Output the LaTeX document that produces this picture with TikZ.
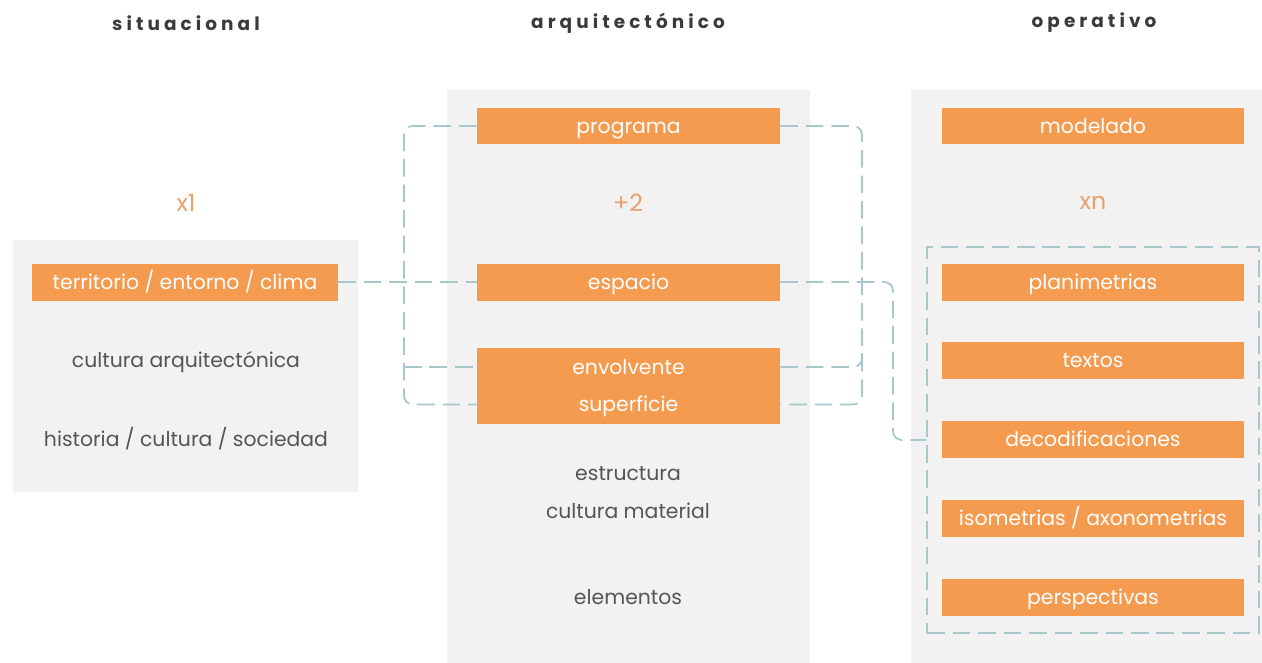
\documentclass[tikz,border=0pt]{standalone}
\usepackage{fontspec}
\setmainfont{Poppins}
\usetikzlibrary{fit}
\definecolor{orng}{HTML}{F49B50}
\definecolor{panel}{HTML}{F2F2F2}
\definecolor{dashcol}{HTML}{A7C7CB}
\definecolor{txtgray}{HTML}{555555}
\definecolor{numorng}{HTML}{E9A06C}
\definecolor{headgray}{HTML}{3A3A3A}

\begin{document}
\begin{tikzpicture}[x=0.02cm,y=-0.02cm,
    box/.style={fill=orng,text=white,minimum width=6.06cm,minimum height=0.74cm,
      inner sep=0pt,text height=0.95em,text depth=0.1em,font=\fontsize{11.6}{13}\selectfont},
    txt/.style={text=txtgray,text height=0.95em,text depth=0.1em,font=\fontsize{11.6}{13}\selectfont},
    num/.style={text=numorng,font=\fontsize{13.5}{15}\selectfont},
    head/.style={text=headgray,font=\fontsize{10.5}{12}\selectfont\bfseries\addfontfeature{LetterSpace=22}},
    link/.style={draw=dashcol,dash pattern=on 10pt off 4.5pt,line width=1pt,rounded corners=5pt},
    group/.style={draw=dashcol,dash pattern=on 10pt off 4.5pt,line width=1pt,
      inner xsep=0.28cm,inner ysep=0.34cm}]
    \useasboundingbox (0,0) rectangle (1262,663);
    % panels
    \fill[panel] (13,240) rectangle (358,492);
    \fill[panel] (447,90) rectangle (810,663);
    \fill[panel] (911,90) rectangle (1262,663);
    % headings
    \node[head] (H0) at (186,23) {situacional};
    \node[head] (H1) at (628,23) {arquitectónico};
    \node[head] (H2) at (1094,23) {operativo};
    \node[num] (N0) at (186,203) {x1};
    \node[num] (N1) at (628,203) {+2};
    \node[num] (N2) at (1093,203) {xn};
    % situacional
    \node[box,minimum width=6.12cm] (A0_0) at (185,282) {territorio / entorno / clima};
    \node[txt] (A0_1) at (186,360) {cultura arquitectónica};
    \node[txt] (A0_2) at (186,439) {historia / cultura / sociedad};
    % arquitectonico
    \node[box] (A1_0) at (628.5,126) {programa};
    \node[box] (A1_1) at (628.5,282) {espacio};
    \node[box,minimum height=0.76cm] (A1_2) at (628.5,367) {envolvente};
    \node[box,minimum height=0.76cm] (A1_3) at (628.5,404.5) {superficie};
    \node[txt] (A1_4) at (628,473) {estructura};
    \node[txt] (A1_5) at (628,511) {cultura material};
    \node[txt] (A1_6) at (628,597) {elementos};
    % operativo
    \node[box] (A2_0) at (1093,126) {modelado};
    \node[box] (A2_1) at (1093,282.5) {planimetrias};
    \node[box] (A2_2) at (1093,360.5) {textos};
    \node[box] (A2_3) at (1093,439.5) {decodificaciones};
    \node[box] (A2_4) at (1093,518.5) {isometrias / axonometrias};
    \node[box] (A2_5) at (1093,597.5) {perspectivas};
    \node[group,fit=(A2_1)(A2_5)] (B2) {};
    % links
    \coordinate (L) at (404,0);
    \coordinate (R) at (862,0);
    \coordinate (E) at (893,0);
    \draw[link] (A0_0.east) -- (A1_1.west);
    \draw[link] (A1_0.west) -| (L |- A1_3.west) -- (A1_3.west);
    \draw[link] (L |- A1_2.west) -- (A1_2.west);
    \draw[link] (A1_0.east) -| (R |- A1_3.east) -- (A1_3.east);
    \draw[link] (A1_2.east) -- (R |- A1_2.east) -- ++(0,-14);
    \draw[link] (A1_1.east) -| (E |- B2.west) -- (B2.west);
\end{tikzpicture}
\end{document}
